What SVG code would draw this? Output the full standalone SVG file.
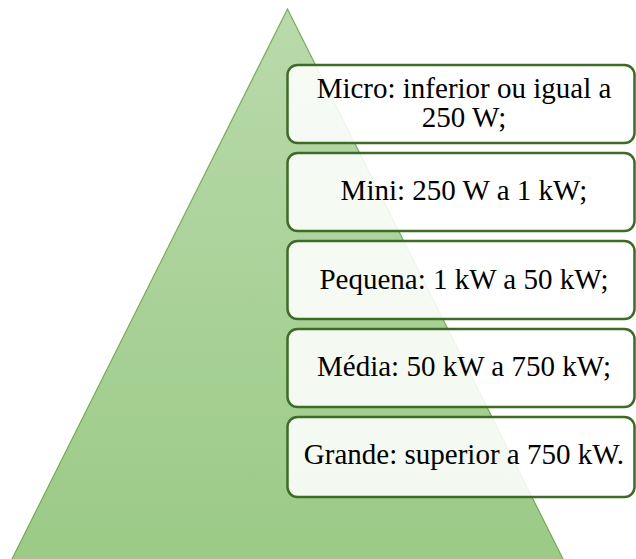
<svg xmlns="http://www.w3.org/2000/svg" width="636" height="559" viewBox="0 0 636 559">
<defs>
<linearGradient id="g" x1="0" y1="0" x2="0" y2="1">
<stop offset="0" stop-color="#b9daab"/>
<stop offset="1" stop-color="#9bca86"/>
</linearGradient>
<style>
.box{fill:#ffffff;fill-opacity:0.88;stroke:#3e6b27;stroke-width:2.5}
.t{font-family:"Liberation Serif","Times New Roman",serif;font-size:29px;fill:#000;text-anchor:middle}
</style>
</defs>
<g id="pyramid">
<polygon points="287.5,9 11,561 564,561" fill="url(#g)" stroke="#74ad55" stroke-width="1.2"/>
</g>
<g id="connectors"></g>
<g id="micro">
<rect class="box" x="287.5" y="65" width="347" height="78" rx="10"/>
<text class="t" x="464" y="98">Micro: inferior ou igual a</text>
<text class="t" x="464" y="127">250 W;</text>
</g>
<g id="mini">
<rect class="box" x="287.5" y="153" width="347" height="78" rx="10"/>
<text class="t" x="464" y="200">Mini: 250 W a 1 kW;</text>
</g>
<g id="pequena">
<rect class="box" x="287.5" y="241" width="347" height="78" rx="10"/>
<text class="t" x="464" y="288.5">Pequena: 1 kW a 50 kW;</text>
</g>
<g id="media">
<rect class="box" x="287.5" y="329" width="347" height="78" rx="10"/>
<text class="t" x="464" y="376">Média: 50 kW a 750 kW;</text>
</g>
<g id="grande">
<rect class="box" x="287.5" y="417" width="347" height="80" rx="10"/>
<text class="t" x="464" y="464">Grande: superior a 750 kW.</text>
</g>
</svg>
